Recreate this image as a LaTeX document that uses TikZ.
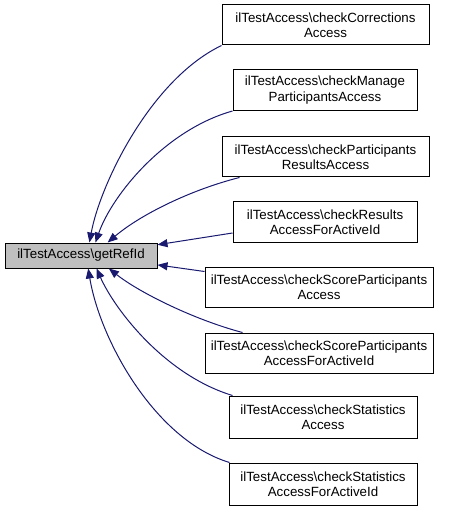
\documentclass[tikz,border=0pt]{standalone}
\usepackage{fontspec}
\setmainfont{Liberation Sans}
\usetikzlibrary{arrows.meta, positioning, calc}

\definecolor{edgeblue}{HTML}{191970}
\definecolor{mainfill}{HTML}{BFBFBF}

\begin{document}
\begin{tikzpicture}[
    x=0.75pt, y=-0.75pt, % one unit is one pixel of the sketch
    >={Triangle[length=7.5pt, width=6pt]}, % Set default arrow tip style
    fn/.style={draw=black, line width=0.75pt, fill=white, align=center,
        inner sep=0pt, font=\fontsize{10}{11.5}\selectfont},
    mainfn/.style={fn, fill=mainfill, minimum width=114pt, minimum height=18.75pt},
    caller/.style={->, draw=edgeblue, line width=0.75pt}
]

    % Fix the page to the sketch size
    \useasboundingbox (0,0) rectangle (451,509);

    % The called function
    \node[mainfn] (getRefId) at (81,255.5) {ilTestAccess\textbackslash getRefId};

    % The callers, top to bottom
    \node[fn, minimum width=155.25pt, minimum height=30pt] (corrections) at (325.5,25)
        {ilTestAccess\textbackslash checkCorrections\\Access};
    \node[fn, minimum width=138pt, minimum height=30.75pt] (manage) at (325,90)
        {ilTestAccess\textbackslash checkManage\\ParticipantsAccess};
    \node[fn, minimum width=155.25pt, minimum height=30pt] (partresults) at (325.5,157)
        {ilTestAccess\textbackslash checkParticipants\\ResultsAccess};
    \node[fn, minimum width=138pt, minimum height=30pt] (resultsactive) at (325,222)
        {ilTestAccess\textbackslash checkResults\\AccessForActiveId};
    \node[fn, minimum width=171pt, minimum height=30pt] (score) at (319,287)
        {ilTestAccess\textbackslash checkScoreParticipants\\Access};
    \node[fn, minimum width=171pt, minimum height=30pt] (scoreactive) at (319,353)
        {ilTestAccess\textbackslash checkScoreParticipants\\AccessForActiveId};
    \node[fn, minimum width=141pt, minimum height=31.5pt] (stats) at (323,417)
        {ilTestAccess\textbackslash checkStatistics\\Access};
    \node[fn, minimum width=141pt, minimum height=31.5pt] (statsactive) at (323,484)
        {ilTestAccess\textbackslash checkStatistics\\AccessForActiveId};

    % Edges, arrow tips end on getRefId
    \draw[caller] (corrections.south west) .. controls (150,80) and (100,185) .. (getRefId.57);
    \draw[caller] (manage.south west) .. controls (165,130) and (112,195) .. (getRefId.42);
    \draw[caller] ($(partresults.south west)+(18,0)$) .. controls (190,190) and (140,215) .. (getRefId.26);
    \draw[caller] ($(resultsactive.west)+(0,11)$) -- (getRefId.8);
    \draw[caller] ($(score.north west)+(0,5)$) -- (getRefId.-7);
    \draw[caller] ($(scoreactive.north west)+(38,0)$) .. controls (195,320) and (140,293) .. (getRefId.-25);
    \draw[caller] ($(stats.north west)+(4,0)$) .. controls (165,375) and (115,310) .. (getRefId.-40);
    \draw[caller] ($(statsactive.north west)+(1,0)$) .. controls (155,440) and (100,340) .. (getRefId.-61);

\end{tikzpicture}
\end{document}
